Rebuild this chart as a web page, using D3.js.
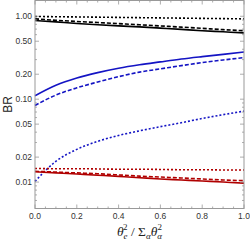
<!DOCTYPE html>
<html>
<head>
<meta charset="utf-8">
<script src="https://cdn.jsdelivr.net/npm/d3@7"></script>
<style>
  body { margin: 0; background: #fff; }
  svg { display: block; }
</style>
</head>
<body>
<div id="chart"></div>
<script>
// x values shared by every curve
var xs = [0, 0.1, 0.2, 0.3, 0.4, 0.5, 0.6, 0.7, 0.8, 0.9, 1.0];

// black (top group)
var blackSolid  = [0.89, 0.855, 0.82, 0.79, 0.765, 0.745, 0.72, 0.695, 0.67, 0.65, 0.63];
var blackDashed = [0.93, 0.895, 0.865, 0.84, 0.815, 0.79, 0.765, 0.74, 0.715, 0.69, 0.67];
var blackDotted = [0.995, 0.988, 0.982, 0.976, 0.969, 0.962, 0.956, 0.95, 0.943, 0.937, 0.93];

// blue (middle group)
var blueSolid  = [0.11, 0.147, 0.18, 0.209, 0.236, 0.26, 0.282, 0.305, 0.326, 0.347, 0.37];
var blueDashed = [0.084, 0.112, 0.137, 0.161, 0.187, 0.212, 0.232, 0.254, 0.276, 0.297, 0.317];
var blueDotted = [0.0102, 0.0178, 0.0248, 0.031, 0.0365, 0.0415, 0.0466, 0.052, 0.0585, 0.065, 0.0718];

// red (bottom group)
var redSolid  = [0.0133, 0.0129, 0.0125, 0.0121, 0.0117, 0.0113, 0.0109, 0.0106, 0.0103, 0.01, 0.0097];
var redDashed = [0.0135, 0.0132, 0.0129, 0.0126, 0.0122, 0.0118, 0.0115, 0.0112, 0.0109, 0.0106, 0.0104];
var redDotted = [0.0146, 0.0145, 0.0145, 0.0144, 0.0143, 0.0143, 0.0142, 0.0141, 0.0141, 0.014, 0.014];

var xTicks = [0, 0.2, 0.4, 0.6, 0.8, 1.0];
var yTicks = [0.01, 0.02, 0.05, 0.1, 0.2, 0.5, 1.0];

(function () {
  'use strict';

  var series = [
    {values: blackSolid,  color: '#000000', dash: null},
    {values: blackDashed, color: '#000000', dash: '4,2'},
    {values: blackDotted, color: '#000000', dash: '2,2'},
    {values: blueSolid,   color: '#1414c4', dash: null},
    {values: blueDashed,  color: '#1414c4', dash: '4,2'},
    {values: blueDotted,  color: '#1414c4', dash: '2,2'},
    {values: redSolid,    color: '#b00000', dash: null},
    {values: redDashed,   color: '#b00000', dash: '4,2'},
    {values: redDotted,   color: '#b00000', dash: '2,2'}
  ];

  var W = 250, H = 242;
  var pLeft = 35, pRight = 244, pTop = 0.5, pBottom = 208.5;
  var axisColor = '#999999';

  var svg = d3.select('#chart').append('svg')
    .attr('width', W)
    .attr('height', H);

  var x = d3.scaleLinear().domain([0, 1]).range([pLeft, pRight]);
  var y = d3.scaleLog().domain([0.0048, 1.55]).range([pBottom, pTop]);

  // minor ticks
  var xMinor = d3.range(0, 1.0001, 0.05).filter(function (v) {
    return Math.abs(v * 5 - Math.round(v * 5)) > 1e-6;
  });
  var yMinor = [];
  [0.001, 0.01, 0.1, 1].forEach(function (dec) {
    d3.range(1, 10).forEach(function (m) {
      var v = dec * m;
      if (v >= 0.0048 && v <= 1.55 && [1, 2, 5].indexOf(m) < 0) yMinor.push(v);
    });
  });

  // curves
  var line = d3.line()
    .x(function (d) { return x(d[0]); })
    .y(function (d) { return y(d[1]); })
    .curve(d3.curveMonotoneX);

  series.forEach(function (s) {
    var pts = xs.map(function (xv, i) { return [xv, s.values[i]]; });
    svg.append('path')
      .datum(pts)
      .attr('fill', 'none')
      .attr('stroke', s.color)
      .attr('stroke-width', 1.6)
      .attr('stroke-dasharray', s.dash)
      .attr('d', line);
  });

  // frame
  svg.append('rect')
    .attr('x', pLeft)
    .attr('y', pTop)
    .attr('width', pRight - pLeft)
    .attr('height', pBottom - pTop)
    .attr('fill', 'none')
    .attr('stroke', axisColor)
    .attr('stroke-width', 1);

  var ticks = svg.append('g').attr('stroke', axisColor).attr('stroke-width', 0.8);

  function vtick(v, len) {
    ticks.append('line').attr('x1', x(v)).attr('x2', x(v)).attr('y1', pBottom).attr('y2', pBottom - len);
    ticks.append('line').attr('x1', x(v)).attr('x2', x(v)).attr('y1', pTop).attr('y2', pTop + len);
  }
  function htick(v, len) {
    ticks.append('line').attr('x1', pLeft).attr('x2', pLeft + len).attr('y1', y(v)).attr('y2', y(v));
    ticks.append('line').attr('x1', pRight).attr('x2', pRight - len).attr('y1', y(v)).attr('y2', y(v));
  }
  xTicks.forEach(function (v) { vtick(v, 4); });
  xMinor.forEach(function (v) { vtick(v, 2); });
  yTicks.forEach(function (v) { htick(v, 4); });
  yMinor.forEach(function (v) { htick(v, 2); });

  // tick labels
  svg.selectAll('.xlab')
    .data(xTicks)
    .enter()
    .append('text')
    .attr('x', function (d) { return x(d); })
    .attr('y', pBottom + 10)
    .attr('text-anchor', 'middle')
    .style('font-family', 'Liberation Sans, Arial, sans-serif')
    .style('font-size', '8.5px')
    .style('fill', '#333')
    .text(function (d) { return d3.format('.1f')(d); });

  svg.selectAll('.ylab')
    .data(yTicks)
    .enter()
    .append('text')
    .attr('x', pLeft - 3)
    .attr('y', function (d) { return y(d) + 3; })
    .attr('text-anchor', 'end')
    .style('font-family', 'Liberation Sans, Arial, sans-serif')
    .style('font-size', '8.5px')
    .style('fill', '#333')
    .text(function (d) { return d3.format('.2f')(d); });

  // axis titles
  svg.append('text')
    .attr('transform', 'translate(12,' + ((pTop + pBottom) / 2) + ') rotate(-90)')
    .attr('text-anchor', 'middle')
    .style('font-family', 'Liberation Sans, Arial, sans-serif')
    .style('font-size', '12px')
    .style('fill', '#222')
    .text('BR');

  var xt = svg.append('text')
    .attr('x', (pLeft + pRight) / 2)
    .attr('y', 236)
    .attr('text-anchor', 'middle')
    .style('font-family', 'Liberation Serif, DejaVu Serif, serif')
    .style('font-size', '13.5px')
    .style('fill', '#222');
  xt.append('tspan').style('font-style', 'italic').text('θ');
  xt.append('tspan').attr('dy', 3).style('font-size', '9px').style('font-style', 'italic').text('e');
  xt.append('tspan').attr('dx', -4.5).attr('dy', -9).style('font-size', '9px').text('2');
  xt.append('tspan').attr('dy', 6).text(' / Σ');
  xt.append('tspan').attr('dy', 3).style('font-size', '9px').style('font-style', 'italic').text('α');
  xt.append('tspan').attr('dy', -3).style('font-style', 'italic').text('θ');
  xt.append('tspan').attr('dy', 3).style('font-size', '9px').style('font-style', 'italic').text('α');
  xt.append('tspan').attr('dx', -4.5).attr('dy', -9).style('font-size', '9px').text('2');
})();
</script>
</body>
</html>
